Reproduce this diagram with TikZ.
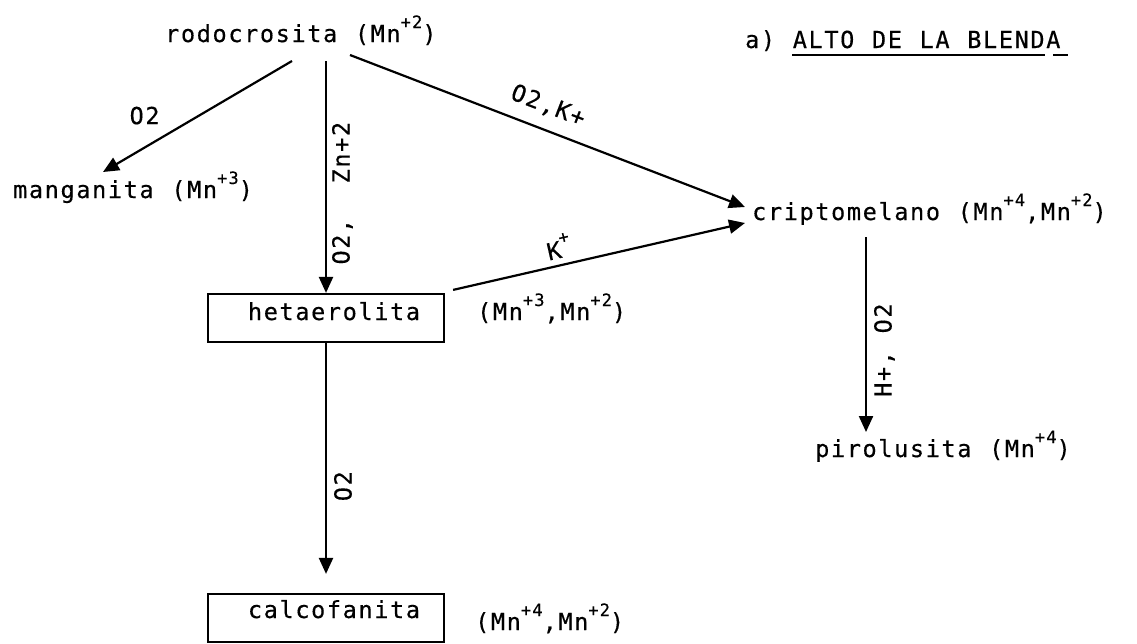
\documentclass[tikz,border=0pt]{standalone}
\usepackage{fontspec}
\setmainfont[LetterSpace=7.0,WordSpace=1.12,FakeBold=0.4]{DejaVu Sans Mono}
\usetikzlibrary{arrows.meta}
\newcommand\supx[1]{\raisebox{14pt}{\fontsize{17pt}{17pt}\selectfont #1}}
\tikzset{
  txt/.style={inner sep=0pt, font=\fontsize{23.5pt}{25pt}\selectfont},
  lbl/.style={inner sep=0pt, font=\fontsize{23.5pt}{25pt}\selectfont},
  arr/.style={line width=2.2pt, -{Triangle[length=16pt,width=14pt]}},
  mbox/.style={draw, line width=2.2pt, minimum width=236pt, minimum height=48pt, inner sep=0pt, font=\fontsize{23.5pt}{25pt}\selectfont},
  ulin/.style={line width=2pt}
}
\begin{document}
\begin{tikzpicture}[x=1pt,y=-1pt]
\useasboundingbox (0,0) rectangle (1137,643);
\node[txt,anchor=base west] (rod) at (165,42) {rodocrosita (Mn\supx{+2})};
\node[txt,anchor=base west] (tit) at (745,48) {a) ALTO DE LA BLENDA};
\node[txt,anchor=base west] (man) at (13,198) {manganita (Mn\supx{+3})};
\node[txt,anchor=base west] (cri) at (752,220) {criptomelano (Mn\supx{+4},Mn\supx{+2})};
\node[mbox, text height=12pt, text depth=8pt] (het) at (326,318) {\hspace*{16pt}hetaerolita};
\node[txt,anchor=base west] (hetox) at (477,320) {(Mn\supx{+3},Mn\supx{+2})};
\node[txt,anchor=base west] (pir) at (815,457) {pirolusita (Mn\supx{+4})};
\node[mbox, text height=10pt, text depth=10pt] (cal) at (326,618) {\hspace*{16pt}calcofanita};
\node[txt,anchor=base west] (calox) at (475,630) {(Mn\supx{+4},Mn\supx{+2})};

\draw[ulin] ([shift={(47,7)}]tit.base west) -- ([shift={(300,7)}]tit.base west);
\draw[ulin] ([shift={(308,7)}]tit.base west) -- ([shift={(323,7)}]tit.base west);

\draw[arr] ([shift={(127,19)}]rod.base west) -- node[lbl,pos=0.78,above=22pt]{O2} ([shift={(90,-26)}]man.base west);
\draw[arr] ([shift={(161,19)}]rod.base west) -- node[lbl,pos=0.57,right=5pt]{\rotatebox{90}{O2,\ \ Zn+2}} (het.north);
\draw[arr] ([shift={(185,13)}]rod.base west) -- node[lbl,pos=0.48,sloped,above=12pt]{O2,K+} ([shift={(-7,-13)}]cri.base west);
\draw[arr] ([shift={(8,-3)}]het.north east) -- node[lbl,pos=0.375,sloped,above=6pt]{K\supx{+}} ([shift={(-7,3)}]cri.base west);
\draw[arr] (het.south) -- node[lbl,pos=0.62,right=7pt]{\rotatebox{90}{O2}} ([yshift=19pt]cal.north);
\draw[arr] ([shift={(114,17)}]cri.base west) -- node[lbl,pos=0.58,right=7pt]{\rotatebox{90}{H+, O2}} ([shift={(51,-25)}]pir.base west);
\end{tikzpicture}
\end{document}
